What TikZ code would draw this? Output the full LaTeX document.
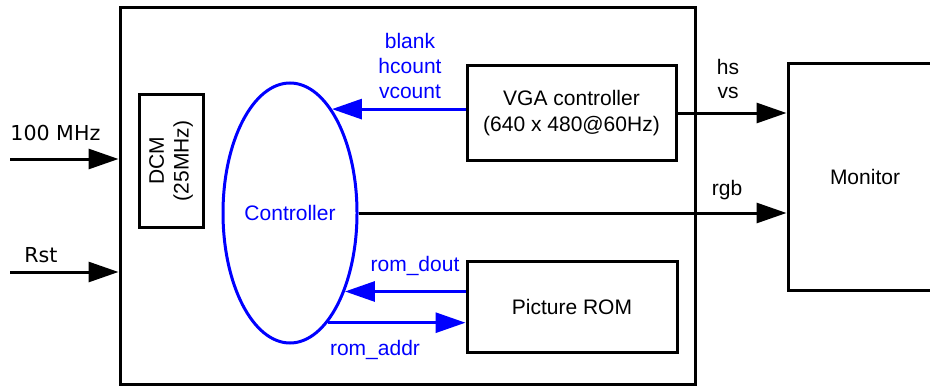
\documentclass[tikz,border=0pt]{standalone}
\usepackage{fontspec}
\setmainfont{Liberation Sans}
\newfontfamily\dejavu{DejaVu Sans}
\usetikzlibrary{arrows.meta,shapes.geometric}

\begin{document}
\begin{tikzpicture}
[x=0.5pt,y=-0.5pt,
  lineDecorate/.style={line width=1.5pt},%
  arrowDecorate/.style={lineDecorate,-{Triangle[length=15pt,width=10pt]}},%
  blueDecorate/.style={arrowDecorate,blue},%
  boxDecorate/.style={draw,lineDecorate,shape=rectangle,inner sep=0pt,font=\fontsize{10.5}{12.6}\selectfont,align=center},%
  labelDecorate/.style={inner sep=0pt,font=\fontsize{10.5}{12.4}\selectfont,align=center},%
  blueLabel/.style={labelDecorate,text=blue}]
\useasboundingbox (0,0) rectangle (930,385);
%% blocks
\node (main) at (407.5,196) [boxDecorate,minimum width=287.5pt,minimum height=188pt] {};
\node (dcm) at (171,161) [boxDecorate,minimum width=32pt,minimum height=66pt] {};
\node at (dcm.center) [labelDecorate,rotate=90] {DCM\\(25MHz)};
\node (vga) at (571.5,113) [boxDecorate,minimum width=104.5pt,minimum height=47pt] {VGA controller\\(640 x 480@60Hz)};
\node (rom) at (572,306.5) [boxDecorate,minimum width=105pt,minimum height=45.5pt] {Picture ROM};
\node (mon) at (865,177) [boxDecorate,minimum width=77pt,minimum height=113pt] {Monitor};
\node (ctrl) at (290,213) [draw=blue,lineDecorate,shape=ellipse,inner sep=0pt,minimum width=67pt,minimum height=130pt] {};
\node at (ctrl.center) [blueLabel] {Controller};
%% inputs
\coordinate (clk) at (10,159);
\coordinate (rst) at (10,272);
\draw[arrowDecorate] (clk) -- (clk -| main.west);
\draw[arrowDecorate] (rst) -- (rst -| main.west);
\node[anchor=west,inner sep=0pt,font=\dejavu\fontsize{10.3}{12}\selectfont] at (10,133) {100 MHz};
\node[anchor=west,inner sep=0pt,font=\dejavu\fontsize{10.3}{12}\selectfont] at (24,255) {Rst};
%% signals
\draw[blueDecorate] (vga.west |- ctrl.68) -- (ctrl.68);
\draw[blueDecorate] (rom.west |- ctrl.-55) -- (ctrl.-55);
\draw[blueDecorate] (ctrl.-71) -- (ctrl.-71 -| rom.west);
\draw[arrowDecorate] (vga.east) -- (vga.east -| mon.west);
\draw[arrowDecorate] (ctrl.east) -- (ctrl.east -| mon.west);
\node at (410,66) [blueLabel] {blank\\hcount\\vcount};
\node at (415,266) [blueLabel] {rom\_dout};
\node at (375,350) [blueLabel] {rom\_addr};
\node at (728,79) [labelDecorate] {hs\\vs};
\node at (727,190) [labelDecorate] {rgb};
\end{tikzpicture}
\end{document}
